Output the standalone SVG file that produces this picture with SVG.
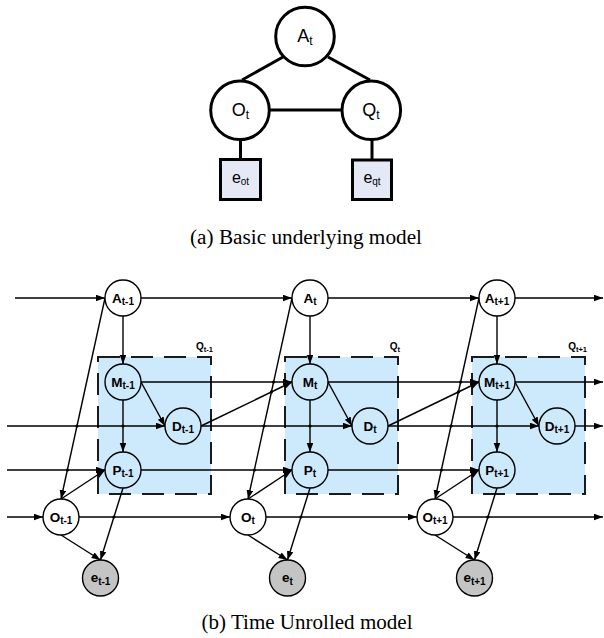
<svg xmlns="http://www.w3.org/2000/svg" width="604" height="638" viewBox="0 0 604 638">
  <defs>
    <marker id="ah" markerUnits="userSpaceOnUse" markerWidth="10" markerHeight="8" refX="9" refY="3.3" orient="auto">
      <path d="M0,0 L9,3.3 L0,6.6 z" fill="#000"/>
    </marker>
  </defs>
  <style>
    .tl{fill:none;stroke:#000;stroke-width:3}
    .tc{fill:#fff;stroke:#000;stroke-width:3}
    .tb{fill:#e5e9f5;stroke:#000;stroke-width:3}
    .tt{font-family:"Liberation Sans",Arial,sans-serif;font-size:18px;text-anchor:middle;fill:#000}
    .ts{font-size:12px}
    .et{font-family:"Liberation Sans",Arial,sans-serif;font-size:16px;text-anchor:middle;fill:#000}
    .es{font-size:10px}
    .ln{fill:none;stroke:#000;stroke-width:1.4}
    .ar{marker-end:url(#ah)}
    .nd{stroke:#000;stroke-width:1.4}
    .w{fill:#fff}
    .b{fill:#cde9fc}
    .g{fill:#c4c4c4}
    .lb{font-family:"Liberation Sans",Arial,sans-serif;font-weight:bold;font-size:13.5px;text-anchor:middle;fill:#000}
    .sb{font-size:10px}
    .ql{font-family:"Liberation Sans",Arial,sans-serif;font-weight:bold;font-size:10px;text-anchor:end;fill:#000}
    .qs{font-size:7.5px}
    .box{fill:#cde9fc;stroke:#1a1a1a;stroke-width:2;stroke-dasharray:22 11}
    .cap{font-family:"Liberation Serif","Times New Roman",serif;font-size:20px;fill:#000}
  </style>
  <rect width="604" height="638" fill="#fff"/>

  <!-- (a) basic model -->
  <g id="basic-edges">
    <path class="tl" d="M283,57 L242,80"/>
    <path class="tl" d="M328,57 L370,80"/>
    <path class="tl" d="M270,110 H342"/>
    <path class="tl" d="M240.5,140 V159"/>
    <path class="tl" d="M372,140 V160"/>
  </g>
  <g id="basic-A">
    <circle class="tc" cx="305" cy="36.5" r="29.3"/>
    <text class="tt" x="305" y="41.5">A<tspan class="ts" dy="3">t</tspan></text>
  </g>
  <g id="basic-O">
    <circle class="tc" cx="240" cy="110.3" r="29.3"/>
    <text class="tt" x="240.5" y="115.5">O<tspan class="ts" dy="3">t</tspan></text>
  </g>
  <g id="basic-Q">
    <circle class="tc" cx="371.3" cy="110.3" r="29.3"/>
    <text class="tt" x="371" y="115.5">Q<tspan class="ts" dy="3">t</tspan></text>
  </g>
  <g id="basic-eot">
    <rect class="tb" x="220.5" y="159.5" width="40" height="40"/>
    <text class="et" x="240.5" y="182.5">e<tspan class="es" dy="2">ot</tspan></text>
  </g>
  <g id="basic-eqt">
    <rect class="tb" x="352.5" y="160" width="39" height="39.5"/>
    <text class="et" x="372" y="182.5">e<tspan class="es" dy="2">qt</tspan></text>
  </g>
  <text class="cap" x="190" y="244" textLength="232" lengthAdjust="spacingAndGlyphs">(a) Basic underlying model</text>

  <!-- (b) time unrolled model: plates -->
  <g id="Q-t-1">
    <rect class="box" x="98" y="357" width="113" height="137"/>
    <text class="ql" x="213" y="350">Q<tspan class="qs" dy="1.5">t-1</tspan></text>
  </g>
  <g id="Q-t">
    <rect class="box" x="285" y="357" width="113" height="137"/>
    <text class="ql" x="400" y="350">Q<tspan class="qs" dy="1.5">t</tspan></text>
  </g>
  <g id="Q-t+1">
    <rect class="box" x="472" y="357" width="113" height="137"/>
    <text class="ql" x="587" y="350">Q<tspan class="qs" dy="1.5">t+1</tspan></text>
  </g>

  <!-- connectors -->
  <g id="connectors">
    <!-- A chain -->
    <path class="ln ar" d="M15,298 H105"/>
    <path class="ln ar" d="M141,298 H292"/>
    <path class="ln ar" d="M328,298 H479"/>
    <path class="ln ar" d="M515,298 H603"/>
    <!-- M chain -->
    <path class="ln ar" d="M141,382 H292"/>
    <path class="ln ar" d="M328,382 H479"/>
    <path class="ln ar" d="M515,382 H603"/>
    <!-- D chain -->
    <path class="ln ar" d="M7,426 H165"/>
    <path class="ln ar" d="M201,426 H352"/>
    <path class="ln ar" d="M388,426 H539"/>
    <path class="ln ar" d="M575,426 H603"/>
    <!-- P chain -->
    <path class="ln ar" d="M7,470 H105"/>
    <path class="ln ar" d="M141,470 H292"/>
    <path class="ln ar" d="M328,470 H479"/>
    <!-- O chain -->
    <path class="ln ar" d="M7,517 H43"/>
    <path class="ln ar" d="M79,517 H230"/>
    <path class="ln ar" d="M266,517 H417"/>
    <path class="ln ar" d="M453,517 H603"/>
    <!-- D to next M -->
    <path class="ln ar" d="M201,426 L292,382"/>
    <path class="ln ar" d="M388,426 L479,382"/>

    <!-- slice t-1 -->
    <path class="ln ar" d="M123,316 V364"/>
    <path class="ln ar" d="M123,400 V452"/>
    <path class="ln ar" d="M141,382 L165,426"/>
    <path class="ln ar" d="M105,298 L61,499"/>
    <path class="ln ar" d="M61,499 L105,470"/>
    <path class="ln ar" d="M61,535 L100.5,560"/>
    <path class="ln ar" d="M123,488 L100.5,560"/>
    <!-- slice t -->
    <path class="ln ar" d="M310,316 V364"/>
    <path class="ln ar" d="M310,400 V452"/>
    <path class="ln ar" d="M328,382 L352,426"/>
    <path class="ln ar" d="M292,298 L248,499"/>
    <path class="ln ar" d="M248,499 L292,470"/>
    <path class="ln ar" d="M248,535 L287.5,560"/>
    <path class="ln ar" d="M310,488 L287.5,560"/>
    <!-- slice t+1 -->
    <path class="ln ar" d="M497,316 V364"/>
    <path class="ln ar" d="M497,400 V452"/>
    <path class="ln ar" d="M515,382 L539,426"/>
    <path class="ln ar" d="M479,298 L435,499"/>
    <path class="ln ar" d="M435,499 L479,470"/>
    <path class="ln ar" d="M435,535 L474.5,560"/>
    <path class="ln ar" d="M497,488 L474.5,560"/>

    <!-- crossing marks -->
    <g fill="#000">
      <circle cx="77" cy="426" r="1.6"/>
      <circle cx="67.4" cy="470" r="1.6"/>
      <circle cx="123" cy="426" r="1.6"/>
      <circle cx="113.9" cy="517" r="1.6"/>
      <circle cx="273.6" cy="382" r="1.6"/>
      <circle cx="271.4" cy="391.9" r="1.6"/>
      <circle cx="264" cy="426" r="1.6"/>
      <circle cx="254.4" cy="470" r="1.6"/>
      <circle cx="310" cy="426" r="1.6"/>
      <circle cx="300.9" cy="517" r="1.6"/>
      <circle cx="460.6" cy="382" r="1.6"/>
      <circle cx="458.4" cy="391.9" r="1.6"/>
      <circle cx="451" cy="426" r="1.6"/>
      <circle cx="441.4" cy="470" r="1.6"/>
      <circle cx="497" cy="426" r="1.6"/>
      <circle cx="487.9" cy="517" r="1.6"/>
    </g>
  </g>

  <!-- nodes, slice t-1 -->
  <g id="A-t-1"><circle class="nd w" cx="123" cy="298" r="18"/><text class="lb" x="123" y="302.5">A<tspan class="sb" dy="2.5">t-1</tspan></text></g>
  <g id="M-t-1"><circle class="nd b" cx="123" cy="382" r="18"/><text class="lb" x="123" y="386.5">M<tspan class="sb" dy="2.5">t-1</tspan></text></g>
  <g id="D-t-1"><circle class="nd b" cx="183" cy="426" r="18"/><text class="lb" x="183" y="430.5">D<tspan class="sb" dy="2.5">t-1</tspan></text></g>
  <g id="P-t-1"><circle class="nd b" cx="123" cy="470" r="18"/><text class="lb" x="123" y="474.5">P<tspan class="sb" dy="2.5">t-1</tspan></text></g>
  <g id="O-t-1"><circle class="nd w" cx="61" cy="517" r="18"/><text class="lb" x="61" y="521.5">O<tspan class="sb" dy="2.5">t-1</tspan></text></g>
  <g id="e-t-1"><circle class="nd g" cx="100.5" cy="578" r="18"/><text class="lb" x="100.5" y="582">e<tspan class="sb" dy="2.5">t-1</tspan></text></g>

  <!-- nodes, slice t -->
  <g id="A-t"><circle class="nd w" cx="310" cy="298" r="18"/><text class="lb" x="310" y="302.5">A<tspan class="sb" dy="2.5">t</tspan></text></g>
  <g id="M-t"><circle class="nd b" cx="310" cy="382" r="18"/><text class="lb" x="310" y="386.5">M<tspan class="sb" dy="2.5">t</tspan></text></g>
  <g id="D-t"><circle class="nd b" cx="370" cy="426" r="18"/><text class="lb" x="370" y="430.5">D<tspan class="sb" dy="2.5">t</tspan></text></g>
  <g id="P-t"><circle class="nd b" cx="310" cy="470" r="18"/><text class="lb" x="310" y="474.5">P<tspan class="sb" dy="2.5">t</tspan></text></g>
  <g id="O-t"><circle class="nd w" cx="248" cy="517" r="18"/><text class="lb" x="248" y="521.5">O<tspan class="sb" dy="2.5">t</tspan></text></g>
  <g id="e-t"><circle class="nd g" cx="287.5" cy="578" r="18"/><text class="lb" x="287.5" y="582">e<tspan class="sb" dy="2.5">t</tspan></text></g>

  <!-- nodes, slice t+1 -->
  <g id="A-t+1"><circle class="nd w" cx="497" cy="298" r="18"/><text class="lb" x="497" y="302.5">A<tspan class="sb" dy="2.5">t+1</tspan></text></g>
  <g id="M-t+1"><circle class="nd b" cx="497" cy="382" r="18"/><text class="lb" x="497" y="386.5">M<tspan class="sb" dy="2.5">t+1</tspan></text></g>
  <g id="D-t+1"><circle class="nd b" cx="557" cy="426" r="18"/><text class="lb" x="557" y="430.5">D<tspan class="sb" dy="2.5">t+1</tspan></text></g>
  <g id="P-t+1"><circle class="nd b" cx="497" cy="470" r="18"/><text class="lb" x="497" y="474.5">P<tspan class="sb" dy="2.5">t+1</tspan></text></g>
  <g id="O-t+1"><circle class="nd w" cx="435" cy="517" r="18"/><text class="lb" x="435" y="521.5">O<tspan class="sb" dy="2.5">t+1</tspan></text></g>
  <g id="e-t+1"><circle class="nd g" cx="474.5" cy="578" r="18"/><text class="lb" x="474.5" y="582">e<tspan class="sb" dy="2.5">t+1</tspan></text></g>

  <text class="cap" x="201.5" y="629" textLength="211" lengthAdjust="spacingAndGlyphs">(b) Time Unrolled model</text>
</svg>
